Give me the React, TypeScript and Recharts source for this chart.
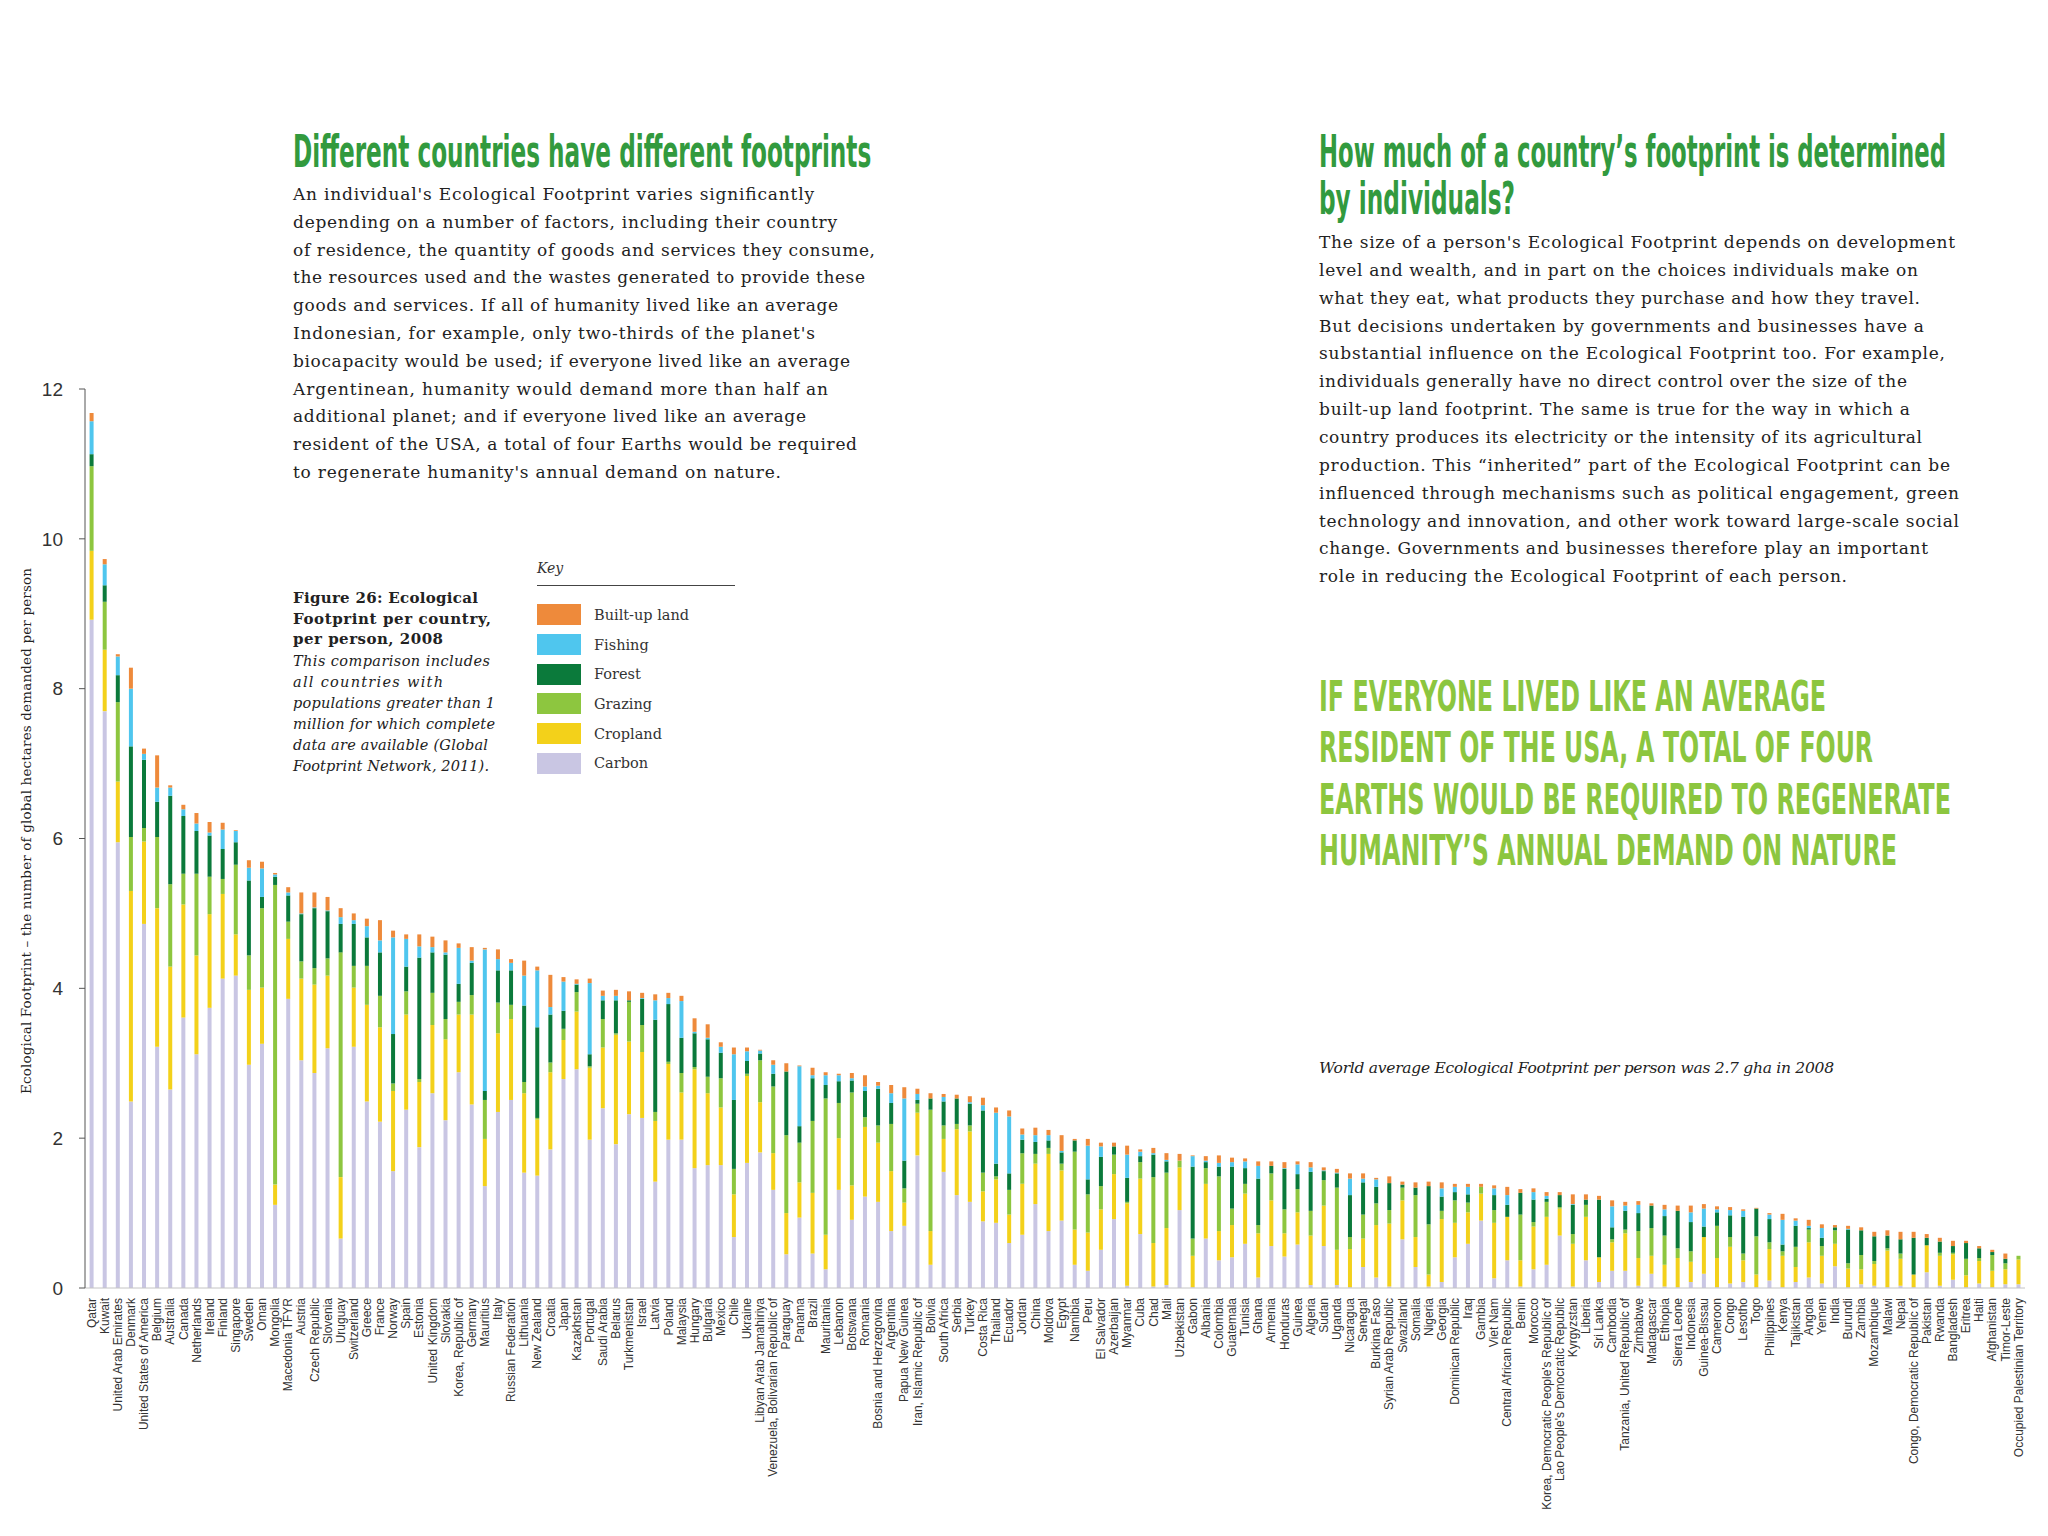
import React, { useLayoutEffect, useRef, useState } from 'react'
import { BarChart, Bar, XAxis, YAxis, Legend } from 'recharts'

// Figure 26: Ecological Footprint per country, per person, 2008
const countries = [
  'Qatar', 'Kuwait', 'United Arab Emirates', 'Denmark', 'United States of America', 'Belgium', 'Australia',
  'Canada', 'Netherlands', 'Ireland', 'Finland', 'Singapore', 'Sweden', 'Oman', 'Mongolia', 'Macedonia TFYR',
  'Austria', 'Czech Republic', 'Slovenia', 'Uruguay', 'Switzerland', 'Greece', 'France', 'Norway', 'Spain',
  'Estonia', 'United Kingdom', 'Slovakia', 'Korea, Republic of', 'Germany', 'Mauritius', 'Italy',
  'Russian Federation', 'Lithuania', 'New Zealand', 'Croatia', 'Japan', 'Kazakhstan', 'Portugal',
  'Saudi Arabia', 'Belarus', 'Turkmenistan', 'Israel', 'Latvia', 'Poland', 'Malaysia', 'Hungary', 'Bulgaria',
  'Mexico', 'Chile', 'Ukraine', 'Libyan Arab Jamahiriya', 'Venezuela, Bolivarian Republic of', 'Paraguay',
  'Panama', 'Brazil', 'Mauritania', 'Lebanon', 'Botswana', 'Romania', 'Bosnia and Herzegovina', 'Argentina',
  'Papua New Guinea', 'Iran, Islamic Republic of', 'Bolivia', 'South Africa', 'Serbia', 'Turkey', 'Costa Rica',
  'Thailand', 'Ecuador', 'Jordan', 'China', 'Moldova', 'Egypt', 'Namibia', 'Peru', 'El Salvador', 'Azerbaijan',
  'Myanmar', 'Cuba', 'Chad', 'Mali', 'Uzbekistan', 'Gabon', 'Albania', 'Colombia', 'Guatemala', 'Tunisia',
  'Ghana', 'Armenia', 'Honduras', 'Guinea', 'Algeria', 'Sudan', 'Uganda', 'Nicaragua', 'Senegal',
  'Burkina Faso', 'Syrian Arab Republic', 'Swaziland', 'Somalia', 'Nigeria', 'Georgia', 'Dominican Republic',
  'Iraq', 'Gambia', 'Viet Nam', 'Central African Republic', 'Benin', 'Morocco',
  "Korea, Democratic People's Republic of", "Lao People's Democratic Republic", 'Kyrgyzstan', 'Liberia',
  'Sri Lanka', 'Cambodia', 'Tanzania, United Republic of', 'Zimbabwe', 'Madagascar', 'Ethiopia',
  'Sierra Leone', 'Indonesia', 'Guinea-Bissau', 'Cameroon', 'Congo', 'Lesotho', 'Togo', 'Philippines', 'Kenya',
  'Tajikistan', 'Angola', 'Yemen', 'India', 'Burundi', 'Zambia', 'Mozambique', 'Malawi', 'Nepal',
  'Congo, Democratic Republic of', 'Pakistan', 'Rwanda', 'Bangladesh', 'Eritrea', 'Haiti', 'Afghanistan',
  'Timor-Leste', 'Occupied Palestinian Territory',
]

const carbon = [
  8.92, 7.7, 5.95, 2.49, 4.86, 3.22, 2.65, 3.61, 3.12, 3.74, 4.13, 4.17, 2.98, 3.26, 1.11, 3.86, 3.04, 2.87, 3.2, 0.66,
  3.22, 2.49, 2.22, 1.56, 2.38, 1.88, 2.6, 2.24, 2.88, 2.45, 1.36, 2.35, 2.51, 1.54, 1.5, 1.85, 2.79, 2.92, 1.98, 2.4,
  1.92, 2.32, 2.27, 1.42, 1.98, 1.98, 1.6, 1.64, 1.64, 0.68, 1.67, 1.81, 1.31, 0.45, 0.94, 0.46, 0.25, 1.31, 0.91, 1.22,
  1.15, 0.76, 0.83, 1.77, 0.31, 1.55, 1.24, 1.15, 0.89, 0.87, 0.6, 0.71, 1.12, 0.76, 0.9, 0.31, 0.23, 0.51, 0.92, 0.03,
  0.72, 0.02, 0.04, 1.04, 0.01, 0.66, 0.37, 0.41, 0.59, 0.14, 0.56, 0.42, 0.58, 0.04, 0.56, 0.04, 0.01, 0.28, 0.14, 0.02,
  0.65, 0.28, 0.02, 0.08, 0.41, 0.59, 0.9, 0.13, 0.37, 0.02, 0.25, 0.31, 0.7, 0.02, 0.37, 0.08, 0.23, 0.23, 0.03, 0.19,
  0.02, 0.01, 0.08, 0.19, 0.01, 0.06, 0.08, 0.01, 0.1, 0.01, 0.08, 0.14, 0.06, 0.29, 0.01, 0.05, 0.03, 0.01, 0.03, 0.01,
  0.21, 0.03, 0.11, 0.01, 0.06, 0.01, 0.05, 0.05,
]
const cropland = [
  0.92, 0.82, 0.81, 2.81, 1.1, 1.85, 1.64, 1.51, 1.32, 1.25, 1.13, 0.55, 1.0, 0.75, 0.27, 0.8, 1.09, 1.18, 0.97, 0.82,
  0.79, 1.29, 1.26, 1.07, 1.27, 0.87, 0.91, 1.08, 0.77, 1.2, 0.63, 1.05, 1.08, 1.06, 0.75, 1.03, 0.52, 0.77, 0.96, 0.81,
  1.46, 0.97, 0.88, 0.81, 1.01, 0.63, 1.32, 0.96, 0.77, 0.57, 1.16, 0.67, 0.49, 0.55, 0.47, 0.81, 0.46, 0.69, 0.46, 0.93,
  0.79, 0.8, 0.31, 0.57, 0.45, 0.44, 0.88, 0.94, 0.4, 0.58, 0.38, 0.68, 0.54, 1.03, 0.67, 0.47, 0.51, 0.54, 0.6, 1.1,
  0.74, 0.58, 0.76, 0.57, 0.42, 0.73, 0.39, 0.43, 0.67, 0.59, 0.61, 0.31, 0.43, 0.66, 0.54, 0.47, 0.51, 0.38, 0.7, 0.84,
  0.52, 0.4, 0.16, 0.84, 0.46, 0.42, 0.36, 0.74, 0.58, 0.35, 0.57, 0.64, 0.36, 0.57, 0.58, 0.33, 0.38, 0.5, 0.37, 0.24,
  0.29, 0.39, 0.27, 0.49, 0.39, 0.49, 0.29, 0.17, 0.42, 0.42, 0.2, 0.47, 0.37, 0.3, 0.25, 0.2, 0.29, 0.49, 0.36, 0.17,
  0.36, 0.4, 0.34, 0.16, 0.3, 0.22, 0.2, 0.33,
]
const grazing = [
  1.13, 0.64, 1.06, 0.72, 0.18, 0.95, 1.1, 0.41, 1.09, 0.5, 0.2, 0.93, 0.46, 1.06, 4.0, 0.23, 0.23, 0.22, 0.23, 3.0,
  0.29, 0.52, 0.42, 0.1, 0.31, 0.04, 0.43, 0.27, 0.17, 0.26, 0.52, 0.41, 0.19, 0.15, 0.02, 0.13, 0.15, 0.26, 0.02, 0.38,
  0.02, 0.53, 0.36, 0.12, 0.03, 0.26, 0.03, 0.22, 0.39, 0.34, 0.03, 0.56, 0.89, 1.04, 0.53, 0.96, 1.82, 0.47, 1.24, 0.13,
  0.23, 0.63, 0.19, 0.12, 1.62, 0.18, 0.07, 0.08, 0.25, 0.04, 0.33, 0.41, 0.13, 0.08, 0.09, 1.04, 0.51, 0.31, 0.26, 0.02,
  0.22, 0.88, 0.74, 0.09, 0.23, 0.21, 0.73, 0.22, 0.13, 0.11, 0.36, 0.32, 0.31, 0.33, 0.34, 0.83, 0.16, 0.32, 0.29, 0.18,
  0.17, 0.56, 0.67, 0.11, 0.3, 0.13, 0.09, 0.17, 0.0, 0.61, 0.06, 0.2, 0.02, 0.13, 0.16, 0.0, 0.04, 0.05, 0.36, 0.37,
  0.39, 0.13, 0.14, 0.0, 0.43, 0.13, 0.09, 0.51, 0.09, 0.06, 0.27, 0.17, 0.13, 0.18, 0.07, 0.19, 0.04, 0.03, 0.07, 0.0,
  0.0, 0.04, 0.02, 0.22, 0.04, 0.21, 0.08, 0.05,
]
const forest = [
  0.16, 0.22, 0.36, 1.21, 0.91, 0.47, 1.18, 0.77, 0.57, 0.55, 0.4, 0.3, 1.0, 0.15, 0.11, 0.35, 0.63, 0.8, 0.63, 0.38,
  0.56, 0.38, 0.58, 0.66, 0.33, 1.62, 0.54, 0.86, 0.24, 0.43, 0.12, 0.43, 0.46, 1.02, 1.21, 0.64, 0.24, 0.1, 0.16, 0.25,
  0.44, 0.02, 0.35, 1.23, 0.77, 0.47, 0.45, 0.5, 0.34, 0.92, 0.17, 0.09, 0.17, 0.85, 0.22, 0.57, 0.18, 0.29, 0.16, 0.35,
  0.49, 0.28, 0.37, 0.05, 0.15, 0.32, 0.34, 0.29, 0.83, 0.17, 0.22, 0.18, 0.16, 0.1, 0.15, 0.15, 0.2, 0.39, 0.11, 0.32,
  0.08, 0.3, 0.15, 0.0, 0.96, 0.08, 0.13, 0.56, 0.21, 0.62, 0.1, 0.54, 0.2, 0.52, 0.12, 0.19, 0.56, 0.43, 0.22, 0.36,
  0.04, 0.1, 0.51, 0.19, 0.11, 0.11, 0.0, 0.2, 0.16, 0.29, 0.3, 0.04, 0.16, 0.39, 0.07, 0.77, 0.16, 0.25, 0.24, 0.3,
  0.26, 0.5, 0.39, 0.14, 0.18, 0.29, 0.49, 0.37, 0.31, 0.09, 0.28, 0.02, 0.11, 0.04, 0.45, 0.33, 0.33, 0.17, 0.19, 0.49,
  0.1, 0.15, 0.09, 0.21, 0.13, 0.04, 0.06, 0.0,
]
const fishing = [
  0.44, 0.28, 0.25, 0.77, 0.08, 0.19, 0.11, 0.09, 0.1, 0.04, 0.26, 0.15, 0.17, 0.38, 0.03, 0.04, 0.01, 0.01, 0.01, 0.09,
  0.05, 0.15, 0.16, 1.29, 0.37, 0.15, 0.07, 0.03, 0.48, 0.03, 1.89, 0.15, 0.1, 0.4, 0.76, 0.1, 0.39, 0.01, 0.95, 0.06,
  0.06, 0.0, 0.01, 0.26, 0.08, 0.49, 0.02, 0.02, 0.08, 0.61, 0.13, 0.04, 0.12, 0.0, 0.8, 0.04, 0.13, 0.08, 0.03, 0.06,
  0.04, 0.13, 0.83, 0.08, 0.0, 0.06, 0.0, 0.02, 0.07, 0.68, 0.76, 0.07, 0.09, 0.07, 0.02, 0.0, 0.45, 0.14, 0.0, 0.31,
  0.06, 0.02, 0.02, 0.0, 0.14, 0.02, 0.05, 0.06, 0.09, 0.17, 0.0, 0.01, 0.13, 0.06, 0.01, 0.01, 0.22, 0.05, 0.1, 0.0,
  0.0, 0.0, 0.0, 0.11, 0.07, 0.1, 0.0, 0.09, 0.13, 0.0, 0.1, 0.04, 0.0, 0.01, 0.0, 0.0, 0.28, 0.07, 0.11, 0.0,
  0.09, 0.0, 0.13, 0.24, 0.04, 0.07, 0.08, 0.0, 0.06, 0.33, 0.07, 0.03, 0.13, 0.0, 0.01, 0.0, 0.0, 0.0, 0.0, 0.0,
  0.0, 0.0, 0.0, 0.0, 0.0, 0.0, 0.0, 0.0,
]
const builtUp = [
  0.11, 0.07, 0.03, 0.28, 0.07, 0.43, 0.03, 0.06, 0.14, 0.14, 0.09, 0.01, 0.1, 0.09, 0.02, 0.07, 0.28, 0.2, 0.18, 0.12,
  0.09, 0.1, 0.27, 0.09, 0.06, 0.16, 0.14, 0.16, 0.06, 0.18, 0.02, 0.13, 0.05, 0.2, 0.05, 0.43, 0.06, 0.06, 0.06, 0.07,
  0.08, 0.12, 0.07, 0.08, 0.07, 0.07, 0.18, 0.18, 0.06, 0.09, 0.05, 0.01, 0.06, 0.11, 0.01, 0.1, 0.04, 0.02, 0.07, 0.15,
  0.05, 0.11, 0.15, 0.07, 0.07, 0.04, 0.05, 0.08, 0.1, 0.07, 0.08, 0.08, 0.1, 0.07, 0.21, 0.02, 0.09, 0.05, 0.05, 0.12,
  0.03, 0.07, 0.09, 0.09, 0.01, 0.06, 0.1, 0.06, 0.04, 0.06, 0.06, 0.08, 0.04, 0.07, 0.04, 0.05, 0.07, 0.07, 0.02, 0.09,
  0.04, 0.07, 0.06, 0.08, 0.04, 0.04, 0.04, 0.04, 0.11, 0.05, 0.05, 0.05, 0.04, 0.13, 0.07, 0.05, 0.08, 0.05, 0.05, 0.03,
  0.06, 0.07, 0.09, 0.06, 0.04, 0.04, 0.02, 0.01, 0.02, 0.08, 0.03, 0.08, 0.05, 0.03, 0.04, 0.04, 0.06, 0.07, 0.1, 0.08,
  0.05, 0.05, 0.07, 0.03, 0.03, 0.03, 0.07, 0.0,
]

const yTicks = [0, 2, 4, 6, 8, 10, 12]

// stacked bottom to top
const series = [
  { key: 'carbon', name: 'Carbon', color: '#c9c6e3' },
  { key: 'cropland', name: 'Cropland', color: '#f3d11a' },
  { key: 'grazing', name: 'Grazing', color: '#8dc63f' },
  { key: 'forest', name: 'Forest', color: '#0b7a3b' },
  { key: 'fishing', name: 'Fishing', color: '#4fc6ee' },
  { key: 'builtUp', name: 'Built-up land', color: '#ee8a3b' },
]
// the key lists them top to bottom
const keyOrder = ['Built-up land', 'Fishing', 'Forest', 'Grazing', 'Cropland', 'Carbon']

const data = countries.map((country, i) => ({
  country,
  carbon: carbon[i],
  cropland: cropland[i],
  grazing: grazing[i],
  forest: forest[i],
  fishing: fishing[i],
  builtUp: builtUp[i],
}))

const serif = "'DejaVu Serif', 'Liberation Serif', serif"
const sans = "'Liberation Sans', Arial, sans-serif"
const condensed = "'DejaVu Sans Condensed', 'Liberation Sans Narrow', 'DejaVu Sans', sans-serif"

const leftText = [
  ["An individual's Ecological Footprint varies significantly", 521],
  ['depending on a number of factors, including their country', 544],
  ['of residence, the quantity of goods and services they consume,', 582],
  ['the resources used and the wastes generated to provide these', 572],
  ['goods and services. If all of humanity lived like an average', 545],
  ["Indonesian, for example, only two-thirds of the planet's", 522],
  ['biocapacity would be used; if everyone lived like an average', 557],
  ['Argentinean, humanity would demand more than half an', 535],
  ['additional planet; and if everyone lived like an average', 513],
  ['resident of the USA, a total of four Earths would be required', 564],
  ["to regenerate humanity's annual demand on nature.", 488],
] as const

const rightText = [
  ["The size of a person's Ecological Footprint depends on development", 636],
  ['level and wealth, and in part on the choices individuals make on', 599],
  ['what they eat, what products they purchase and how they travel.', 601],
  ['But decisions undertaken by governments and businesses have a', 605],
  ['substantial influence on the Ecological Footprint too. For example,', 626],
  ['individuals generally have no direct control over the size of the', 588],
  ['built-up land footprint. The same is true for the way in which a', 591],
  ['country produces its electricity or the intensity of its agricultural', 603],
  ['production. This \u201cinherited\u201d part of the Ecological Footprint can be', 631],
  ['influenced through mechanisms such as political engagement, green', 640],
  ['technology and innovation, and other work toward large-scale social', 640],
  ['change. Governments and businesses therefore play an important', 609],
  ['role in reducing the Ecological Footprint of each person.', 528],
] as const

const captionBold = [
  ['Figure 26: Ecological', 185],
  ['Footprint per country,', 198],
  ['per person, 2008', 150],
] as const
const captionItalic = [
  ['This comparison includes', 197],
  ['all countries with', 150],
  ['populations greater than 1', 202],
  ['million for which complete', 202],
  ['data are available (Global', 195],
  ['Footprint Network, 2011).', 196],
] as const

const callout = [
  ['IF EVERYONE LIVED LIKE AN AVERAGE', 507],
  ['RESIDENT OF THE USA, A TOTAL OF FOUR', 554],
  ['EARTHS WOULD BE REQUIRED TO REGENERATE', 632],
  ["HUMANITY\u2019S ANNUAL DEMAND ON NATURE", 578],
] as const

// condensed display type: measure the natural run and squeeze it horizontally to the wanted width
function FitText({ x, y, width, children, ...rest }: any) {
  const ref = useRef<SVGTextElement>(null)
  const [sx, setSx] = useState(0.5)
  useLayoutEffect(() => {
    const el = ref.current
    if (!el) return
    const w = el.getComputedTextLength()
    if (w > 0) setSx(width / w)
  }, [width, children])
  return (
    <text ref={ref} transform={`translate(${x},${y}) scale(${sx},1)`} {...rest}>
      {children}
    </text>
  )
}

const CountryTick = (props: any) => {
  const { x, y, payload } = props
  return (
    <g transform={`translate(${x},${y})`}>
      <text transform="rotate(-90)" textAnchor="end" dy="0.35em" fontSize={12} fill="#333" fontFamily={sans}>
        {payload.value}
      </text>
    </g>
  )
}

const KeyLegend = (props: any) => {
  const payload = props.payload || []
  const items = keyOrder
    .map((name) => payload.find((p: any) => p.value === name))
    .filter(Boolean)
  return (
    <div style={{ width: 198, fontFamily: serif, textAlign: 'left', color: '#333' }}>
      <div style={{ height: 29, lineHeight: '24px', fontSize: 14, fontStyle: 'italic', borderBottom: '1px solid #444' }}>Key</div>
      <div style={{ marginTop: 14 }}>
        {items.map((it: any) => (
          <div key={it.value} style={{ height: 29.7, display: 'flex', alignItems: 'center' }}>
            <div style={{ width: 44, height: 21, background: it.color, marginRight: 13 }} />
            <span style={{ fontSize: 14.5 }}>{it.value}</span>
          </div>
        ))}
      </div>
    </div>
  )
}

export default function App() {
  return (
    <div style={{ position: 'absolute', left: 0, top: 0, width: 2048, height: 1536, background: '#fff', overflow: 'hidden' }}>
      <BarChart
        width={2048}
        height={1536}
        data={data}
        margin={{ top: 389, right: 23, bottom: 18, left: 0 }}
        barCategoryGap="35%"
      >
        <XAxis
          dataKey="country"
          interval={0}
          height={230}
          tickSize={0}
          tickMargin={10}
          tick={<CountryTick />}
          axisLine={{ stroke: '#c4c4c4' }}
        />
        <YAxis
          domain={[0, 12]}
          ticks={yTicks}
          width={85}
          tickSize={6}
          tickMargin={16}
          axisLine={{ stroke: '#555' }}
          tickLine={{ stroke: '#555' }}
          tick={{ fontSize: 19, fill: '#333', fontFamily: sans }}
        />
        <Legend
          layout="vertical"
          align="center"
          verticalAlign="middle"
          content={<KeyLegend />}
          wrapperStyle={{ position: 'absolute', left: 537, top: 556, width: 200 }}
        />
        {series.map((s) => (
          <Bar key={s.key} dataKey={s.key} name={s.name} stackId="fp" fill={s.color} isAnimationActive={false} />
        ))}
      </BarChart>

      <svg width={2048} height={1536} style={{ position: 'absolute', left: 0, top: 0, pointerEvents: 'none' }}>
        {/* titles */}
        <FitText x={293} y={167} width={578} fontFamily={condensed} fontWeight={700} fontSize={44} fill="#329a3e">
          Different countries have different footprints
        </FitText>
        <FitText x={1319} y={167} width={627} fontFamily={condensed} fontWeight={700} fontSize={44} fill="#329a3e">
          {'How much of a country\u2019s footprint is determined'}
        </FitText>
        <FitText x={1319} y={214} width={196} fontFamily={condensed} fontWeight={700} fontSize={44} fill="#329a3e">
          by individuals?
        </FitText>

        {leftText.map(([t, w], i) => (
          <text key={t} x={293} y={200 + i * 27.8} fontFamily={serif} fontSize={17} fill="#222" textLength={w}>{t}</text>
        ))}
        {rightText.map(([t, w], i) => (
          <text key={t} x={1319} y={248 + i * 27.86} fontFamily={serif} fontSize={17} fill="#222" textLength={w}>{t}</text>
        ))}

        {captionBold.map(([t, w], i) => (
          <text key={t} x={293} y={603 + i * 20.7} fontFamily={serif} fontWeight={700} fontSize={15} fill="#222" textLength={w}>{t}</text>
        ))}
        {captionItalic.map(([t, w], i) => (
          <text key={t} x={293} y={666 + i * 21} fontFamily={serif} fontStyle="italic" fontSize={14.5} fill="#222" textLength={w}>{t}</text>
        ))}

        {callout.map(([t, w], i) => (
          <FitText key={t} x={1319} y={711 + i * 51.3} width={w} fontFamily={condensed} fontWeight={700} fontSize={43.5} fill="#8cc63f">
            {t}
          </FitText>
        ))}

        <text x={1319} y={1073} fontFamily={serif} fontStyle="italic" fontSize={15.5} fill="#222" textLength={515}>
          World average Ecological Footprint per person was 2.7 gha in 2008
        </text>

        <text transform="translate(31,831) rotate(-90)" textAnchor="middle" fontFamily={serif} fontSize={13.5} fill="#222"
          textLength={526}>{'Ecological Footprint \u2013 the number of global hectares demanded per person'}</text>
      </svg>
    </div>
  )
}
